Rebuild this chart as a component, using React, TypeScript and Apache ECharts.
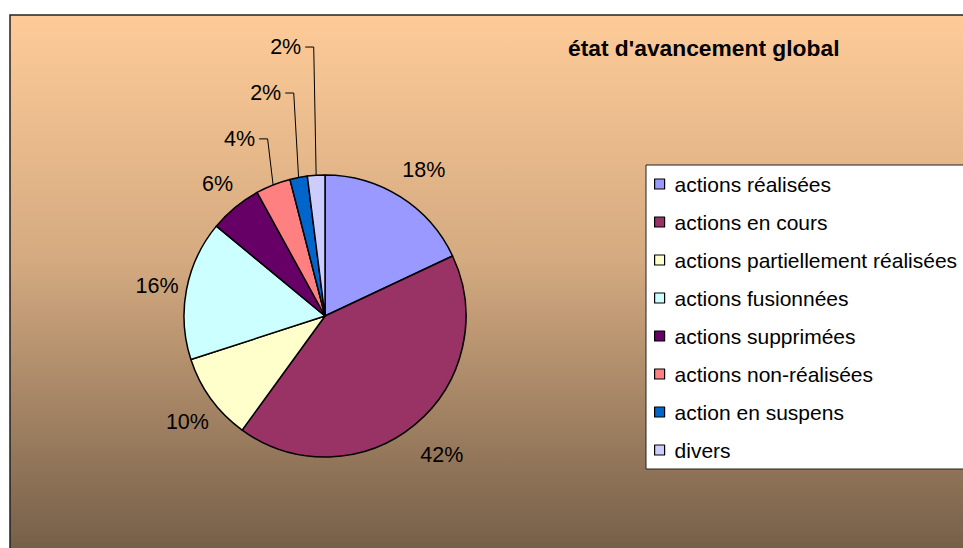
import React, { useEffect, useRef } from "react";
import * as echarts from "echarts";

const categories = [
  "actions réalisées",
  "actions en cours",
  "actions partiellement réalisées",
  "actions fusionnées",
  "actions supprimées",
  "actions non-réalisées",
  "action en suspens",
  "divers",
];
const values = [18, 42, 10, 16, 6, 4, 2, 2];
const sliceColors = [
  "#9999FF",
  "#993366",
  "#FFFFCC",
  "#CCFFFF",
  "#660066",
  "#FF8080",
  "#0066CC",
  "#CCCCFF",
];
const titleText = "état d'avancement global";

// label line styling (not data)
const lineLengths = [36, 36, 34, 34, 34, 49.5, 86, 128.5];
const hasLeader = [false, false, false, false, false, true, true, true];

const FONT = "Liberation Sans, Arial, sans-serif";

export default function App() {
  const ref = useRef<HTMLDivElement>(null);
  useEffect(() => {
    if (!ref.current) return;
    const chart = echarts.init(ref.current, undefined, { renderer: "svg" });
    const data = categories.map((name, i) => ({
      name,
      value: values[i],
      itemStyle: { color: sliceColors[i] },
      labelLine: {
        show: true,
        length: lineLengths[i],
        length2: 0,
        lineStyle: { color: "#000", width: 1, opacity: hasLeader[i] ? 1 : 0 },
      },
    }));
    chart.setOption({
      animation: false,
      backgroundColor: "#ffffff",
      graphic: [
        {
          type: "rect",
          z: 0,
          shape: { x: 10, y: 15, width: 965, height: 545 },
          style: {
            fill: new echarts.graphic.LinearGradient(0, 0, 0, 1, [
              { offset: 0, color: "#FECB98" },
              { offset: 0.45, color: "#D4AA80" },
              { offset: 1, color: "#725C47" },
            ]),
            stroke: "#222",
            lineWidth: 1.5,
          },
          silent: true,
        },
      ],
      title: {
        text: titleText,
        left: 568,
        top: 36,
        padding: 0,
        textStyle: {
          fontFamily: FONT,
          fontSize: 22.8,
          fontWeight: "bold",
          color: "#000",
        },
      },
      legend: {
        orient: "vertical",
        left: 646,
        top: 165,
        padding: [7, 14, 7, 8],
        itemGap: 14,
        itemWidth: 10,
        itemHeight: 10,
        icon: "rect",
        backgroundColor: "#ffffff",
        borderColor: "#222",
        borderWidth: 1,
        itemStyle: { borderColor: "#000", borderWidth: 1.2 },
        textStyle: {
          fontFamily: FONT,
          fontSize: 21,
          lineHeight: 24,
          color: "#000",
          padding: [0, 0, 0, 5],
        },
        data: categories,
      },
      series: [
        {
          type: "pie",
          center: [325, 316],
          radius: 141,
          startAngle: 90,
          clockwise: true,
          avoidLabelOverlap: false,
          itemStyle: { borderColor: "#000", borderWidth: 1.5 },
          emphasis: { disabled: true },
          label: {
            show: true,
            position: "outside",
            formatter: "{d}%",
            fontFamily: FONT,
            fontSize: 21.5,
            color: "#000",
          },
          labelLayout: (params: any) => {
            const pts = params.labelLinePoints;
            if (!pts) return {};
            const i = params.dataIndex;
            const p0 = pts[0];
            const p1 = pts[1];
            if (hasLeader[i]) {
              const x1 = p0[0] + (p1[0] - p0[0]) * 0.3;
              const y1 = p1[1];
              const x2 = x1 - 8.5;
              return {
                x: x2 - 4,
                y: y1,
                align: "right",
                verticalAlign: "middle",
                labelLinePoints: [
                  [p0[0], p0[1]],
                  [x1, y1],
                  [x2, y1],
                ],
              };
            }
            return {
              x: p1[0] + 4,
              y: p1[1] + 3,
              align: "center",
              verticalAlign: "middle",
              labelLinePoints: [
                [p0[0], p0[1]],
                [p0[0], p0[1]],
                [p0[0], p0[1]],
              ],
            };
          },
          data,
        },
      ],
    });
    return () => chart.dispose();
  }, []);
  return (
    <div
      ref={ref}
      style={{ position: "fixed", left: 0, top: 0, width: 963, height: 548 }}
    />
  );
}
